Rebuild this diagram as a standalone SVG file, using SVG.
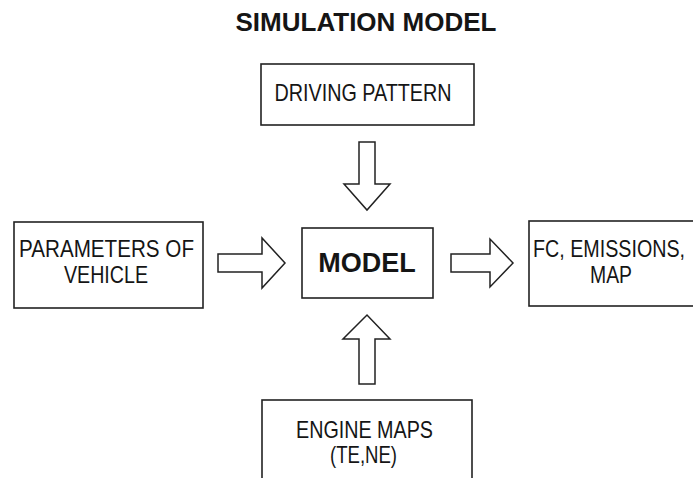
<svg xmlns="http://www.w3.org/2000/svg" width="693" height="478" viewBox="0 0 693 478">
<style>
.box{fill:#fff;stroke:#222;stroke-width:1.6}
.arr{fill:#fff;stroke:#222;stroke-width:1.5;stroke-linejoin:miter}
.t{font-family:"Liberation Sans",Arial,sans-serif;font-size:24px;fill:#151515;text-anchor:middle}
.b{font-family:"Liberation Sans",Arial,sans-serif;font-weight:bold;fill:#151515;text-anchor:middle}
</style>
<rect width="693" height="478" fill="#fff"/>
<text class="b" x="366" y="31" font-size="26">SIMULATION MODEL</text>
<g id="driving-pattern">
<rect class="box" x="261" y="64" width="213" height="61"/>
<text class="t" x="363" y="101" textLength="177" lengthAdjust="spacingAndGlyphs">DRIVING PATTERN</text>
</g>
<g id="parameters">
<rect class="box" x="14" y="222" width="189" height="86"/>
<text class="t" x="106.5" y="257" textLength="175" lengthAdjust="spacingAndGlyphs">PARAMETERS OF</text>
<text class="t" x="106" y="283" textLength="84" lengthAdjust="spacingAndGlyphs">VEHICLE</text>
</g>
<g id="model">
<rect class="box" x="302" y="228" width="131" height="70"/>
<text class="b" x="367" y="272" font-size="27">MODEL</text>
</g>
<g id="results">
<rect class="box" x="529" y="221" width="170" height="85"/>
<text class="t" x="0" y="0" style="font-size:19.7px" transform="translate(609,257) scale(1,1.2)">FC, EMISSIONS,</text>
<text class="t" x="611" y="283" textLength="42" lengthAdjust="spacingAndGlyphs">MAP</text>
</g>
<g id="engine-maps">
<rect class="box" x="262" y="400" width="210" height="90"/>
<text class="t" x="364.5" y="438" textLength="137" lengthAdjust="spacingAndGlyphs">ENGINE MAPS</text>
<text class="t" x="363.5" y="463" textLength="67" lengthAdjust="spacingAndGlyphs">(TE,NE)</text>
</g>
<g id="connectors">
<polygon class="arr" points="359,142 375,142 375,184 390,184 367,210 344,184 359,184"/>
<polygon class="arr" points="359,384 375,384 375,339 390,339 367,315 343,339 359,339"/>
<polygon class="arr" points="218,254 262,254 262,238 285,263 262,288 262,272 218,272"/>
<polygon class="arr" points="451,254 490,254 490,239 513,263 490,287 490,272 451,272"/>
</g>
</svg>
